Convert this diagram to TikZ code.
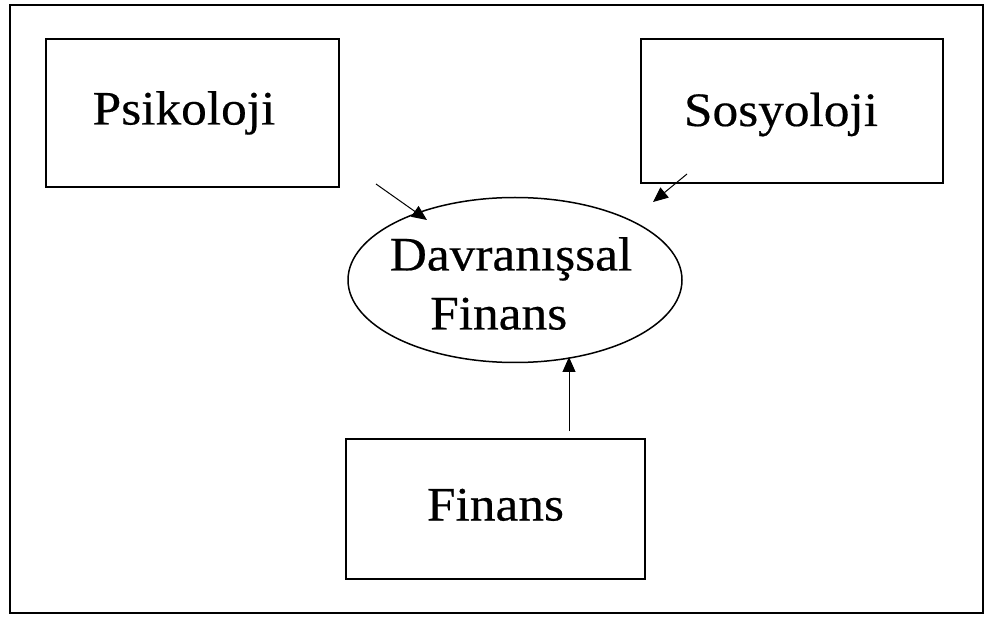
\documentclass[tikz,border=0pt]{standalone}
\usepackage{fontspec}
\setmainfont{Liberation Serif}[FakeStretch=1.07,FakeBold=0.4]
\usetikzlibrary{shapes.geometric,arrows.meta}
\begin{document}
\begin{tikzpicture}[x=1pt,y=-1pt,
  bigfont/.style={font=\fontsize{48}{59}\selectfont},
  box/.style={draw, rectangle, line width=1.8pt, inner sep=0pt, bigfont,
    text height=34pt, text depth=11pt},
  ell/.style={draw, ellipse, line width=1.5pt, inner sep=0pt,
    minimum width=334pt, minimum height=165pt},
  txt/.style={bigfont, inner sep=0pt, align=center},
  frame/.style={draw, line width=2pt},
  arr/.style={-{Triangle[length=15pt,width=13pt]}, line width=1pt}]
\useasboundingbox (0,0) rectangle (985,617);
\draw[frame] (10,5) rectangle (983,613);
\node[box, minimum width=293pt, minimum height=148pt] (psi) at (192.5,113) {Psikoloji\hspace*{17pt}};
\node[box, minimum width=302pt, minimum height=144pt] (sos) at (792,111) {\raisebox{-3.5pt}{Sosyoloji}\hspace*{22pt}};
\node[box, minimum width=299pt, minimum height=140pt] (fin) at (495.5,509) {Finans};
\node[ell] (df) at (515,280) {};
\node[txt] (dft) at (511,283.5) {Davranışsal\\Finans\hspace*{24.6pt}};
\coordinate (a1) at (376,184);
\coordinate (b1) at (427,220);
\coordinate (a2) at (687,174);
\coordinate (b2) at (653,202);
\coordinate (a3) at (569,431);
\coordinate (b3) at (569,357);
\draw[arr] (a1) -- (b1);
\draw[arr] (a2) -- (b2);
\draw[arr] (a3) -- (b3);
\end{tikzpicture}
\end{document}
